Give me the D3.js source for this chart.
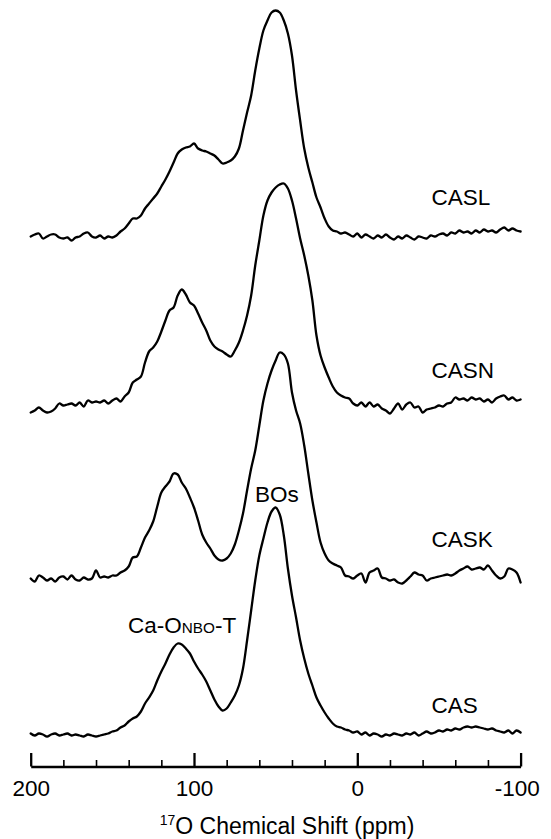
<!DOCTYPE html>
<html>
<head>
<meta charset="utf-8">
<script src="https://cdn.jsdelivr.net/npm/d3@7/dist/d3.min.js"></script>
<style>
    body { margin: 0; background: #fff; }
    svg { display: block; }
    text { font-family: "Liberation Sans", Arial, Helvetica, sans-serif; fill: #000; }
    .axis path, .axis line { stroke: #000; }
</style>
</head>
<body>
<div id="chart"></div>
<script>
// chemical shift grid, 200 -> -100 ppm every 2.5 ppm
var shifts = d3.range(200, -100.1, -2.5);

// intensities (arbitrary units, above each trace's own baseline)
var casl = [-1,1,2,-3,-1,1,1,-2,-3,-2,
    -5,-2,-1,2,3,-1,-2,0,-3,-1,
    -2,0,4,7,12,17,17,20,27,32,
    37,42,49,56,64,73,82,86,88,89,
    92,87,85,84,82,80,76,72,73,75,
    79,87,105,123,140,165,187,205,215,223,
    225,223,215,202,180,145,115,87,68,53,
    38,28,17,9,5,4,2,3,1,-1,
    2,-2,1,-1,-3,0,-2,1,-2,-4,
    -1,-3,0,-2,-4,-1,-2,-3,0,-1,
    1,2,0,3,2,5,3,4,2,5,
    3,6,4,5,3,6,8,5,7,5,
    4];
var casn = [-2,0,3,0,-2,-1,2,7,5,6,
    7,5,8,4,10,8,9,8,10,7,
    10,12,9,14,18,28,31,34,48,59,
    63,69,79,90,100,103,115,121,116,108,
    105,97,88,80,70,64,61,59,56,54,
    60,68,80,95,115,145,170,195,210,218,
    223,226,227,222,210,192,172,155,135,110,
    75,55,43,33,24,18,15,13,12,7,
    5,8,4,8,4,6,2,0,-3,2,
    7,1,6,8,3,4,-2,1,2,3,
    5,4,7,8,13,11,12,10,13,11,
    12,9,11,8,12,14,15,11,13,10,
    11];
var cask = [-1,-4,2,0,-3,-1,-4,0,1,-2,
    2,-2,-3,0,-2,-1,7,0,1,0,
    2,2,5,7,11,20,21,30,40,47,
    56,71,85,91,96,104,103,95,89,80,
    70,57,43,35,29,22,18,17,19,24,
    33,47,64,87,109,127,152,177,194,207,
    217,225,223,214,185,167,154,132,104,77,
    55,35,24,17,14,12,10,2,1,-1,
    2,4,-5,5,7,9,0,-1,-3,-2,
    -5,-6,-3,1,5,3,2,-3,-1,0,
    1,2,3,2,4,7,9,11,8,9,
    10,8,12,7,2,-1,1,9,8,5,
    -5];
var cas = [0,-2,0,-1,-3,-1,0,-2,-1,0,
    -2,-1,-2,-3,-1,-2,-3,-2,-1,0,
    2,3,6,8,12,15,17,22,30,36,
    43,53,62,70,79,86,90,89,85,80,
    72,65,59,52,43,34,27,23,25,31,
    38,48,65,93,123,153,178,195,211,222,
    226,219,198,165,138,116,93,75,60,48,
    36,28,21,15,10,7,6,4,3,1,
    2,-1,1,-2,0,-1,-3,-1,-2,0,
    -1,-2,0,-1,1,-2,0,2,0,1,
    3,2,4,3,5,4,6,7,6,7,
    6,5,4,5,3,2,1,3,0,3,
    1];

var sampleNames = ["CASL", "CASN", "CASK", "CAS"];
var sampleSeries = [casl, casn, cask, cas];
var stackOffsets = [531, 356, 189, 33];   // vertical stacking, same units
var nameShift = -45.5;                     // ppm where sample names start
var nameHeights = [31, 33, 31, 21];        // above each baseline

var majorTicks = [200, 100, 0, -100];
var minorTicks = [180, 160, 140, 120, 80, 60, 40, 20, -20, -40, -60, -80];

// peak assignments on the CAS trace
var peakLabels = [
    { parts: [["Ca-O", 1], ["NBO", 0.68], ["-T", 1]], shift: 140.4, height: 101 },
    { parts: [["BOs", 1]], shift: 62.6, height: 232 }
];

var width = 551, height = 839;
var fontSize = 22.5;

var svg = d3.select("#chart").append("svg")
    .attr("width", width)
    .attr("height", height);

svg.append("rect")
    .attr("width", width)
    .attr("height", height)
    .attr("fill", "#fff");

var x = d3.scaleLinear()
    .domain([200, -100])
    .range([30.7, 520.6]);

var y = d3.scaleLinear()
    .domain([0, 760])
    .range([766.5, 6.5]);

var line = d3.line()
    .x((d) => x(d[0]))
    .y((d) => y(d[1]))
    .curve(d3.curveCatmullRom.alpha(0.5));

var traces = svg.append("g").attr("class", "traces");

sampleSeries.forEach((series, k) => {
    var pts = series.map((v, i) => [shifts[i], v + stackOffsets[k]]);
    traces.append("path")
        .datum(pts)
        .attr("fill", "none")
        .attr("stroke", "#000")
        .attr("stroke-width", 2.3)
        .attr("stroke-linejoin", "round")
        .attr("stroke-linecap", "round")
        .attr("d", line);

    traces.append("text")
        .attr("x", x(nameShift))
        .attr("y", y(stackOffsets[k] + nameHeights[k]))
        .attr("font-size", fontSize)
        .text(sampleNames[k]);
});

// peak labels (bottom trace)
var casOffset = stackOffsets[3];
peakLabels.forEach((p) => {
    var t = svg.append("text")
        .attr("x", x(p.shift))
        .attr("y", y(casOffset + p.height))
        .attr("font-size", fontSize);
    p.parts.forEach((part) => {
        t.append("tspan")
            .attr("font-size", fontSize * part[1])
            .text(part[0]);
    });
});

// axis: ticks point up, labels below
var axisY = y(0);

var minorAxis = d3.axisBottom(x)
    .tickValues(minorTicks)
    .tickSize(-6.5)
    .tickSizeOuter(0)
    .tickFormat("");

var majorAxis = d3.axisBottom(x)
    .tickValues(majorTicks)
    .tickSize(-13.5)
    .tickSizeOuter(0)
    .tickPadding(14)
    .tickFormat((d) => d);

svg.append("g")
    .attr("class", "axis minor")
    .attr("transform", "translate(0," + axisY + ")")
    .call(minorAxis)
    .call((g) => g.select(".domain").remove())
    .selectAll("line")
    .attr("stroke-width", 1.6);

var gMajor = svg.append("g")
    .attr("class", "axis major")
    .attr("transform", "translate(0," + axisY + ")")
    .call(majorAxis);

gMajor.select(".domain").attr("stroke-width", 2.3);
gMajor.selectAll("line").attr("stroke-width", 2.3);
gMajor.selectAll("text")
    .attr("font-size", fontSize)
    .attr("font-family", "'Liberation Sans', Arial, Helvetica, sans-serif")
    .attr("dx", (d) => d < 0 ? "-0.17em" : null);

// axis title with superscript
var title = svg.append("text")
    .attr("x", 287)
    .attr("y", 834)
    .attr("text-anchor", "middle")
    .attr("font-size", 23);

title.append("tspan")
    .attr("font-size", 14)
    .attr("dy", -9)
    .text("17");
title.append("tspan")
    .attr("dy", 9)
    .text("O Chemical Shift (ppm)");
</script>
</body>
</html>
